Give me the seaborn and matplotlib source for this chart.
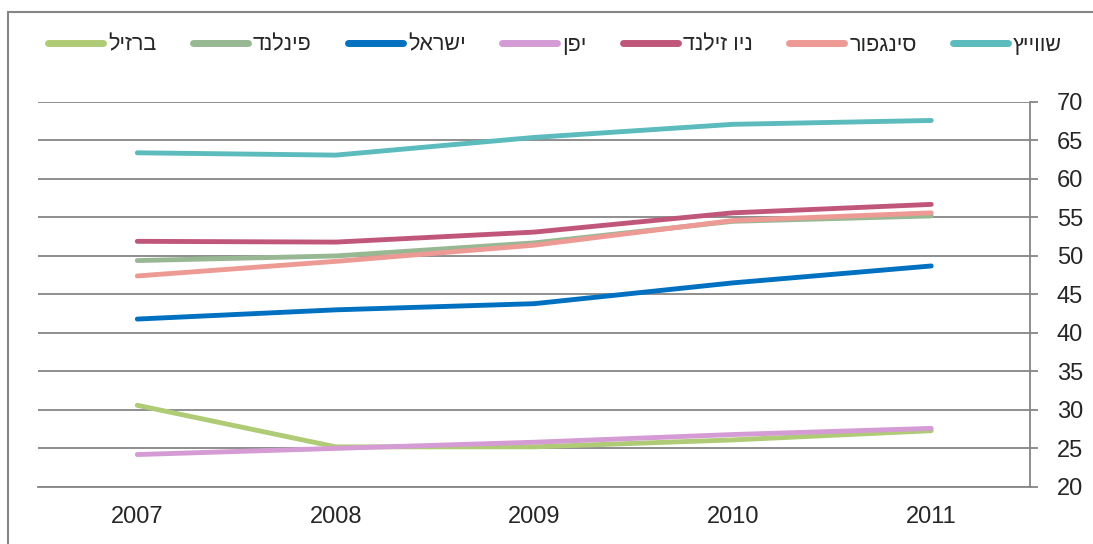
import pandas as pd
import seaborn as sns
import matplotlib.pyplot as plt
from matplotlib.patches import Rectangle

years = ["2007", "2008", "2009", "2010", "2011"]
countries = ["ברזיל", "פינלנד", "ישראל", "יפן", "ניו זילנד", "סינגפור", "שווייץ"]
brazil = [30.6, 25.2, 25.2, 26.1, 27.3]
finland = [49.4, 50.0, 51.7, 54.5, 55.2]
israel = [41.8, 43.0, 43.8, 46.5, 48.7]
japan = [24.2, 25.0, 25.8, 26.8, 27.6]
new_zealand = [51.9, 51.8, 53.1, 55.6, 56.7]
singapore = [47.4, 49.3, 51.4, 54.6, 55.6]
switzerland = [63.4, 63.1, 65.4, 67.1, 67.6]
colors = ["#AFCB76", "#98B894", "#0070C0", "#D59BD5", "#C0577A", "#EE9A94", "#5BBBBD"]

series = [brazil, finland, israel, japan, new_zealand, singapore, switzerland]

# matplotlib lays text out left to right, so Hebrew names are reversed for display
shown = [c[::-1] for c in countries]

rows = []
for name, vals in zip(shown, series):
    for i, v in enumerate(vals):
        rows.append({"x": i, "value": v, "country": name})
df = pd.DataFrame(rows)

sns.set_style("white")
plt.rcParams["font.family"] = ["Liberation Sans", "DejaVu Sans"]

grey = "#868686"
fig = plt.figure(figsize=(10.93, 5.44), dpi=100)
ax = fig.add_axes([0.0348, 0.105, 0.908, 0.7075])

sns.lineplot(data=df, x="x", y="value", hue="country", hue_order=shown,
             palette=colors, linewidth=3.5, ax=ax, legend=True)
for ln in ax.get_lines():
    ln.set_solid_capstyle("round")

ax.set_xlim(-0.5, 4.5)
ax.set_ylim(20, 70)
ax.set_yticks(range(20, 71, 5))
ax.set_xticks(range(len(years)))
ax.set_xticklabels(years)
ax.set_xticks([i - 0.5 for i in range(len(years) + 1)], minor=True)
ax.tick_params(axis="x", which="major", length=0, pad=14, labelsize=17)
ax.tick_params(axis="x", which="minor", length=5, width=1.3, color=grey, direction="out")
ax.yaxis.tick_right()
ax.tick_params(axis="y", length=6, width=1.3, color=grey, direction="out", pad=13, labelsize=17)
ax.set_xlabel("")
ax.set_ylabel("")
ax.grid(axis="y", color=grey, linewidth=1.3)
ax.set_axisbelow(True)

for side in ["top", "left"]:
    ax.spines[side].set_visible(False)
for side in ["right", "bottom"]:
    ax.spines[side].set_color(grey)
    ax.spines[side].set_linewidth(1.3)

handles, labels = ax.get_legend_handles_labels()
ax.legend(handles, labels, ncol=7, loc="center", bbox_to_anchor=(0.521, 1.148),
          frameon=False, fontsize=15.5, handlelength=2.55, handletextpad=0.23,
          columnspacing=1.7, borderaxespad=0)
for h in ax.get_legend().get_lines():
    h.set_linewidth(5)
    h.set_solid_capstyle("round")

fig.patches.append(Rectangle((8 / 1093, -0.1), 1.2, 0.1 + 532 / 544,
                             transform=fig.transFigure, fill=False,
                             edgecolor=grey, linewidth=1.5))

fig.savefig("out.png", dpi=100)
